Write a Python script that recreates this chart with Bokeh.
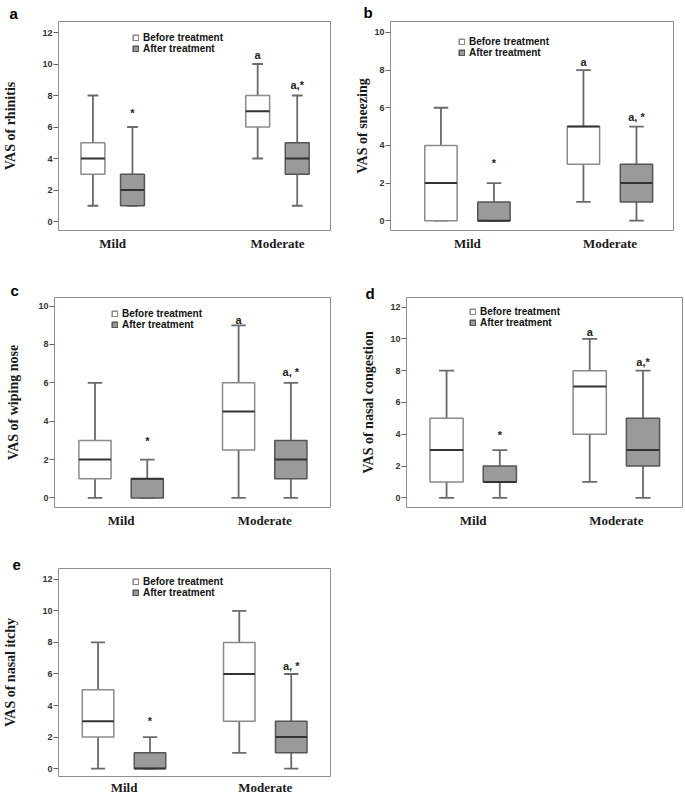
import numpy as np
from bokeh.plotting import figure
from bokeh.layouts import column, row
from bokeh.models import ColumnDataSource, FixedTicker, Range1d, Legend, LegendItem, Title
from bokeh.core.properties import value
from bokeh.embed import file_html
from bokeh.resources import INLINE

# ---------------- data ----------------
groups = ["Mild", "Moderate"]
series = ["Before treatment", "After treatment"]
# box order: Mild-before, Mild-after, Moderate-before, Moderate-after
box_group = [1, 1, 2, 2]
box_side = [-1, 1, -1, 1]

rhinitis_min = [1, 1, 4, 1]
rhinitis_q1 = [3, 1, 6, 3]
rhinitis_med = [4, 2, 7, 4]
rhinitis_q3 = [5, 3, 8, 5]
rhinitis_max = [8, 6, 10, 8]
rhinitis_marks = ["", "*", "a", "a,*"]
rhinitis_mark_y = [np.nan, 6.9, 10.55, 8.66]

sneezing_min = [0, 0, 1, 0]
sneezing_q1 = [0, 0, 3, 1]
sneezing_med = [2, 0, 5, 2]
sneezing_q3 = [4, 1, 5, 3]
sneezing_max = [6, 2, 8, 5]
sneezing_marks = ["", "*", "a", "a, *"]
sneezing_mark_y = [np.nan, 3.09, 8.41, 5.5]

wiping_min = [0, 0, 0, 0]
wiping_q1 = [1, 0, 2.5, 1]
wiping_med = [2, 1, 4.5, 2]
wiping_q3 = [3, 1, 6, 3]
wiping_max = [6, 2, 9, 6]
wiping_marks = ["", "*", "a", "a, *"]
wiping_mark_y = [np.nan, 2.99, 9.3, 6.56]

congestion_min = [0, 0, 1, 0]
congestion_q1 = [1, 1, 4, 2]
congestion_med = [3, 1, 7, 3]
congestion_q3 = [5, 2, 8, 5]
congestion_max = [8, 3, 10, 8]
congestion_marks = ["", "*", "a", "a,*"]
congestion_mark_y = [np.nan, 3.95, 10.45, 8.57]

itchy_min = [0, 0, 1, 0]
itchy_q1 = [2, 0, 3, 1]
itchy_med = [3, 0, 6, 2]
itchy_q3 = [5, 1, 8, 3]
itchy_max = [8, 2, 10, 6]
itchy_marks = ["", "*", "", "a, *"]
itchy_mark_y = [np.nan, 3.0, np.nan, 6.53]

y_titles = ["VAS of rhinitis", "VAS of sneezing", "VAS of wiping nose",
            "VAS of nasal congestion", "VAS of nasal itchy"]
panel_letters = ["a", "b", "c", "d", "e"]
y_tick_max = [12, 10, 10, 12, 12]

# ---------------- styles ----------------
SANS = "Liberation Sans"
SERIF = "Liberation Serif"
BEFORE_FILL, BEFORE_LINE = "#ffffff", "#8a8a8a"
AFTER_FILL, AFTER_LINE = "#9a9a9a", "#555555"
WHISK = "#6a6a6a"
MED = "#333333"
FRAME = "#8f8f8f"

# layout per panel (positions / sizes only)
layouts = [
    dict(w=340, h=265, l=54, r=10, t=19, b=35, xr=(0.671, 2.322), yr=(-0.57, 12.7),
         dodge=0.12, bw=0.145, lab_so=21, leg=(74, 176), let_off=-49, let_so=0, xso=5),
    dict(w=344, h=265, l=50, r=11, t=21, b=32, xr=(0.460, 2.446), yr=(-0.52, 10.58),
         dodge=0.186, bw=0.227, lab_so=1, leg=(68, 172), let_off=-27, let_so=1, xso=5),
    dict(w=340, h=265, l=54, r=10, t=32, b=23, xr=(0.536, 2.458), yr=(-0.5, 10.45),
         dodge=0.182, bw=0.224, lab_so=14, leg=(57, 177), let_off=-44, let_so=-3, xso=5),
    dict(w=344, h=265, l=66, r=2, t=31, b=23, xr=(0.534, 2.462), yr=(-0.61, 12.6),
         dodge=0.186, bw=0.232, lab_so=11, leg=(63, 179), let_off=-41, let_so=-9, xso=5),
    dict(w=340, h=267, l=54, r=10, t=38, b=19, xr=(0.536, 2.462), yr=(-0.5, 12.69),
         dodge=0.184, bw=0.223, lab_so=21, leg=(74, 178), let_off=-46, let_so=-3, xso=3),
]

stats = [
    (rhinitis_min, rhinitis_q1, rhinitis_med, rhinitis_q3, rhinitis_max, rhinitis_marks, rhinitis_mark_y),
    (sneezing_min, sneezing_q1, sneezing_med, sneezing_q3, sneezing_max, sneezing_marks, sneezing_mark_y),
    (wiping_min, wiping_q1, wiping_med, wiping_q3, wiping_max, wiping_marks, wiping_mark_y),
    (congestion_min, congestion_q1, congestion_med, congestion_q3, congestion_max, congestion_marks, congestion_mark_y),
    (itchy_min, itchy_q1, itchy_med, itchy_q3, itchy_max, itchy_marks, itchy_mark_y),
]


def make_panel(i):
    L = layouts[i]
    mn, q1, med, q3, mx, marks, mark_y = stats[i]
    x = np.array(box_group, float) + np.array(box_side, float) * L["dodge"]
    bw = L["bw"]
    cw = bw * 0.45 / 2

    title = Title(text=panel_letters[i], align="left", offset=L["let_off"], standoff=L["let_so"],
                  text_font=SANS, text_font_style="bold", text_font_size="15px",
                  text_color="#000000")
    p = figure(width=L["w"], height=L["h"], output_backend="svg", toolbar_location=None,
               x_range=Range1d(*L["xr"]), y_range=Range1d(*L["yr"]),
               min_border_left=L["l"], min_border_right=L["r"],
               min_border_top=L["t"], min_border_bottom=L["b"], title=title)
    p.outline_line_color = FRAME
    p.outline_line_width = 1
    p.xgrid.visible = False
    p.ygrid.visible = False
    p.background_fill_color = "white"
    p.border_fill_color = "white"

    src = ColumnDataSource(dict(
        x=x, lo=np.array(mn, float), q1=np.array(q1, float), med=np.array(med, float),
        q3=np.array(q3, float), hi=np.array(mx, float),
        xl=x - bw / 2, xr=x + bw / 2, cl=x - cw, cr=x + cw))

    # whiskers and caps
    p.segment(x0="x", y0="q3", x1="x", y1="hi", source=src, line_color=WHISK, line_width=1.8)
    p.segment(x0="x", y0="q1", x1="x", y1="lo", source=src, line_color=WHISK, line_width=1.8)
    p.segment(x0="cl", y0="hi", x1="cr", y1="hi", source=src, line_color=WHISK, line_width=1.8)
    p.segment(x0="cl", y0="lo", x1="cr", y1="lo", source=src, line_color=WHISK, line_width=1.8)

    idx_b = [0, 2]
    idx_a = [1, 3]
    sb = ColumnDataSource(dict(x=x[idx_b], top=np.array(q3, float)[idx_b], bottom=np.array(q1, float)[idx_b]))
    sa = ColumnDataSource(dict(x=x[idx_a], top=np.array(q3, float)[idx_a], bottom=np.array(q1, float)[idx_a]))
    rb = p.vbar(x="x", top="top", bottom="bottom", width=bw, source=sb,
                fill_color=BEFORE_FILL, line_color=BEFORE_LINE, line_width=1.5)
    ra = p.vbar(x="x", top="top", bottom="bottom", width=bw, source=sa,
                fill_color=AFTER_FILL, line_color=AFTER_LINE, line_width=1.5)

    p.segment(x0="xl", y0="med", x1="xr", y1="med", source=src, line_color=MED, line_width=2)

    # significance marks
    keep = [k for k in range(4) if marks[k]]
    ms = ColumnDataSource(dict(x=x[keep], y=np.array(mark_y, float)[keep], t=[marks[k] for k in keep]))
    p.text(x="x", y="y", text="t", source=ms, text_font=value(SANS), text_font_style="bold",
           text_font_size="11px", text_align="center", text_baseline="middle", text_color="#222222")

    # axes
    p.yaxis.ticker = FixedTicker(ticks=list(range(0, y_tick_max[i] + 1, 2)))
    p.yaxis.axis_line_color = None
    p.yaxis.major_tick_out = 5
    p.yaxis.major_tick_in = 0
    p.yaxis.major_tick_line_color = "#666666"
    p.yaxis.minor_tick_line_color = None
    p.yaxis.major_label_standoff = 1
    p.yaxis.major_label_text_font = SANS
    p.yaxis.major_label_text_font_style = "bold"
    p.yaxis.major_label_text_font_size = "9px"
    p.yaxis.major_label_text_color = "#333333"
    p.yaxis.axis_label = y_titles[i]
    p.yaxis.axis_label_text_font = SERIF
    p.yaxis.axis_label_text_font_style = "bold"
    p.yaxis.axis_label_text_font_size = "14px"
    p.yaxis.axis_label_text_color = "#1a1a1a"
    p.yaxis.axis_label_standoff = L["lab_so"]

    p.xaxis.ticker = FixedTicker(ticks=[1, 2])
    p.xaxis.major_label_overrides = {1: groups[0], 2: groups[1]}
    p.xaxis.axis_line_color = None
    p.xaxis.major_tick_line_color = None
    p.xaxis.minor_tick_line_color = None
    p.xaxis.major_tick_out = 0
    p.xaxis.major_label_standoff = L["xso"]
    p.xaxis.major_label_text_font = SERIF
    p.xaxis.major_label_text_font_style = "bold"
    p.xaxis.major_label_text_font_size = "13px"
    p.xaxis.major_label_text_color = "#1a1a1a"

    leg = Legend(items=[LegendItem(label=series[0], renderers=[rb]),
                        LegendItem(label=series[1], renderers=[ra])],
                 location=L["leg"], orientation="vertical")
    leg.glyph_width = 7
    leg.glyph_height = 7
    leg.label_height = 10
    leg.label_standoff = 4
    leg.spacing = 0
    leg.padding = 0
    leg.margin = 0
    leg.border_line_color = None
    leg.background_fill_alpha = 0
    leg.label_text_font = SANS
    leg.label_text_font_style = "bold"
    leg.label_text_font_size = "10px"
    leg.label_text_color = "#111111"
    p.add_layout(leg, "center")
    return p


panels = [make_panel(i) for i in range(5)]
layout = column(row(panels[0], panels[1]), row(panels[2], panels[3]), panels[4])

open("out.html", "w").write(file_html(layout, INLINE))
